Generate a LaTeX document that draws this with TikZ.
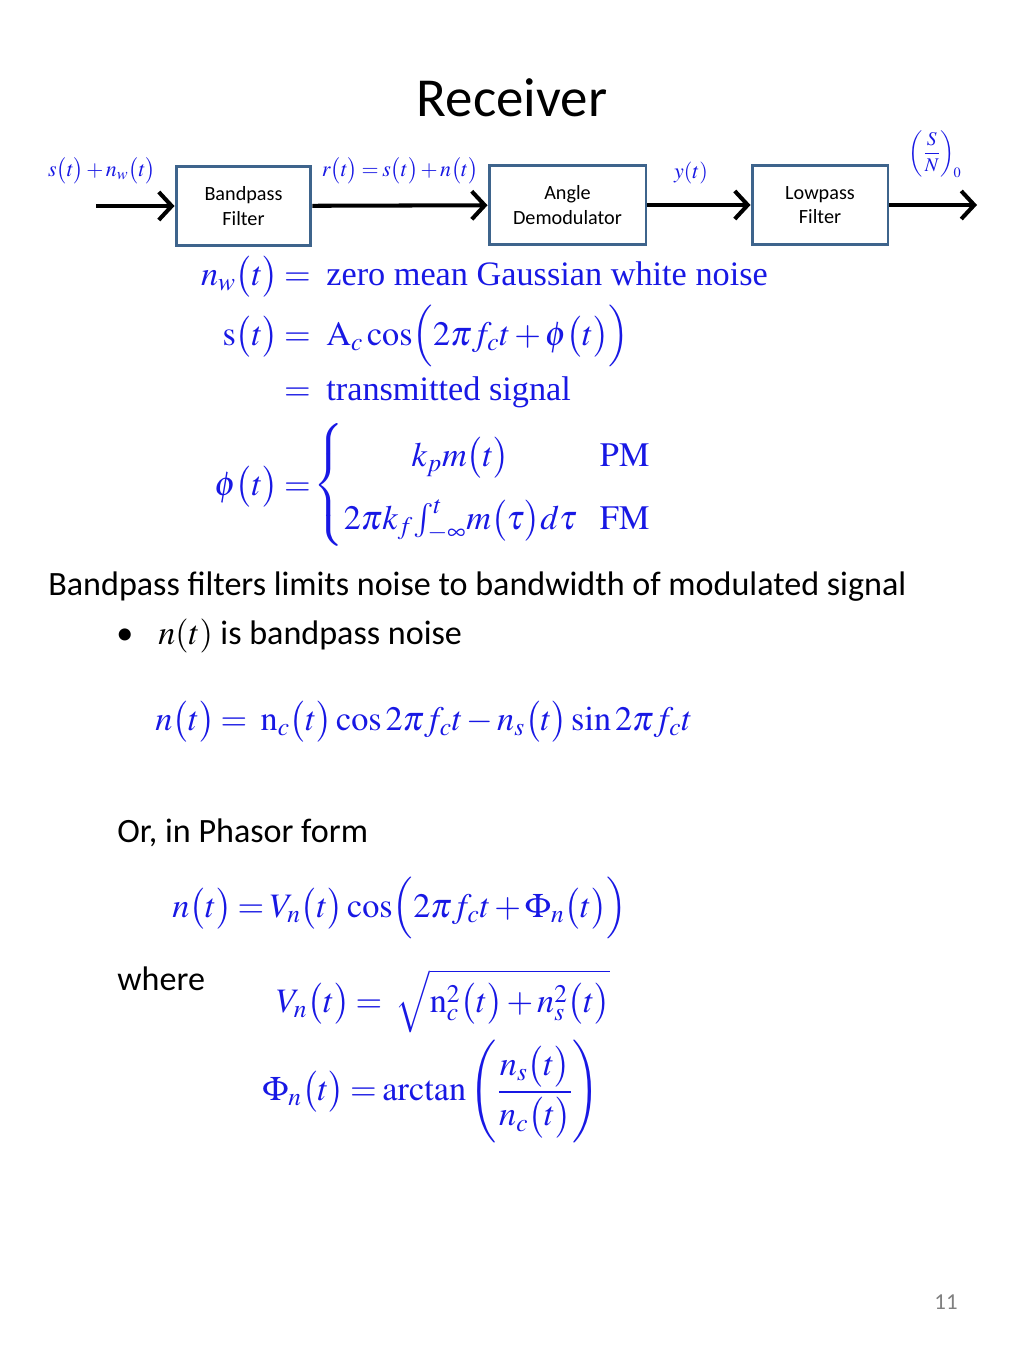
\documentclass[tikz,border=0pt]{standalone}
\usepackage{amsmath}
\usepackage{mathptmx}
\usepackage[no-math]{fontspec}
\setmainfont{Carlito}
\newfontfamily\tms{Liberation Serif}
\usetikzlibrary{arrows.meta,positioning}
\definecolor{eqblue}{RGB}{24,24,228}
\definecolor{boxblue}{RGB}{62,100,140}
\newcommand{\pa}[1]{\bigl(#1\bigr)}
\medmuskip=2mu plus 1mu minus 1mu
\thickmuskip=3mu plus 2mu
\tikzset{
	blk/.style={draw=boxblue,line width=1.7pt,minimum height=1.6cm,align=center,font=\fontsize{11.5}{14}\selectfont},
	sig/.style={line width=2.3pt,-{Straight Barb[length=2.6mm,width=5.6mm,line width=2.3pt]}},
	lbl/.style={text=eqblue,font=\fontsize{12.5}{15}\selectfont,inner sep=0pt},
	eq/.style={text=eqblue,font=\fontsize{19.5}{24}\selectfont,inner sep=0pt},
	txt/.style={font=\fontsize{19.4}{24}\selectfont,inner sep=0pt}
}
\begin{document}
\begin{tikzpicture}[x=0.02cm,y=-0.02cm]
	\useasboundingbox[fill=white] (0,0) rectangle (1024,1365);
	\node[font=\fontsize{31.3}{38}\selectfont] (title) at (512,98) {Receiver};
	\node[blk,minimum width=2.7cm] (bpf) at (243.5,206) {Bandpass\\Filter};
	\node[blk,minimum width=3.14cm] (dem) at (567.5,205) {Angle\\Demodulator};
	\node[blk,minimum width=2.72cm] (lpf) at (820,205) {Lowpass\\Filter};
	\coordinate (in) at (96,206);
	\coordinate (out) at (977,205);
	\draw[sig] (in) -- (bpf);
	\draw[sig] (bpf) -- (dem);
	\draw[sig] (dem) -- (lpf);
	\draw[sig] (lpf) -- (out);
	\node[lbl] (lin) at (102,171) {$s\pa{t}+n_w\pa{t}$};
	\node[lbl] (lr) at (400,171) {$r\pa{t}=s\pa{t}+n\pa{t}$};
	\node[lbl] (ly) at (691,173) {$y(t)$};
	\node[lbl,font=\fontsize{11}{13}\selectfont] (lsn) at (935,154) {$\left(\dfrac{S}{N}\right)_{\!0}$};
	\node[eq,anchor=base east] (nwl) at (311,285) {$n_w\pa{t}=$};
	\node[eq,anchor=base west] (nwr) at (326,285) {\tms zero mean Gaussian white noise};
	\node[eq,anchor=base east] (sl) at (311,345) {$\mathrm{s}\pa{t}=$};
	\node[eq,anchor=base west] (sr) at (326,345) {$\mathrm{A}_c\cos\Bigl(2\pi f_ct+\phi\pa{t}\Bigr)$};
	\node[eq,anchor=base east] (tl) at (311,400) {$=$};
	\node[eq,anchor=base west] (tr) at (326,400) {\tms transmitted signal};
	\node[eq,anchor=east] (phl) at (311,487) {$\phi\pa{t}=$};
	\node[eq,anchor=west] (phr) at (313,485) {$\renewcommand{\arraystretch}{1.5}\left\{\begin{array}{@{}c@{\hspace{13pt}}l@{}}
		k_pm\pa{t} & \mathrm{PM}\\
		2\pi k_f\!\int_{-\infty}^{t}\!m\pa{\tau}d\tau & \mathrm{FM}
	\end{array}\right.$};
	\node[txt,anchor=base west] (bp) at (48,595) {Bandpass filters limits noise to bandwidth of modulated signal};
	\node[txt,anchor=base west] (bul) at (116,644) {\textbullet};
	\node[txt,anchor=base west] (nbp) at (158,644) {$n(t)$ is bandpass noise};
	\node[eq,anchor=base west] (nt) at (155,730) {$n\pa{t}=\ \mathrm{n}_c\pa{t}\cos 2\pi f_ct-n_s\pa{t}\sin 2\pi f_ct$};
	\node[txt,anchor=base west] (or) at (117,842) {Or, in Phasor form};
	\node[eq,anchor=base west] (np) at (172,917) {$n\pa{t}=V_n\pa{t}\cos\Bigl(2\pi f_ct+\Phi_n\pa{t}\Bigr)$};
	\node[txt,anchor=base west] (wh) at (117,990) {where};
	\node[eq,anchor=base west] (vn) at (276,1012) {$V_n\pa{t}=\ \sqrt{\mathrm{n}_c^2\pa{t}+n_s^2\pa{t}}$};
	\node[eq,anchor=west] (ph) at (262,1092) {$\Phi_n\pa{t}=\arctan\left(\dfrac{n_s\pa{t}}{n_c\pa{t}}\right)$};
	\node[text=gray,font=\fontsize{13}{15}\selectfont] (pg) at (946,1302) {11};
\end{tikzpicture}
\end{document}
